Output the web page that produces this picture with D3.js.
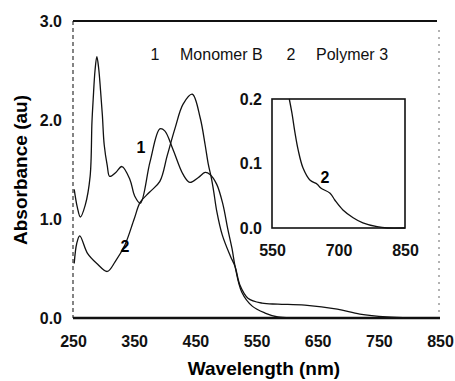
<!DOCTYPE html>
<html>
<head>
<meta charset="utf-8">
<script src="https://cdn.jsdelivr.net/npm/d3@7/dist/d3.min.js"></script>
<style>
  body { margin: 0; background: #fff; }
  svg { display: block; font-family: "Liberation Sans", Arial, sans-serif; }
  .tick text { font-weight: bold; font-size: 16px; fill: #111; }
</style>
</head>
<body>
<div id="chart"></div>
<script>
// curve 1 - Monomer B
var wavelength1 = [252, 257, 262, 270, 278, 281, 283, 286, 289, 292, 295, 298, 301, 306, 310, 320, 330, 343, 351, 360, 376, 392, 400, 413, 430, 441, 455, 466, 474, 485, 495, 503, 510, 515, 526, 543, 564, 585, 610, 640];
var absorb1 = [1.30, 1.12, 1.02, 1.14, 1.43, 1.98, 2.21, 2.50, 2.64, 2.52, 2.30, 2.05, 1.75, 1.54, 1.43, 1.47, 1.53, 1.40, 1.23, 1.16, 1.58, 1.91, 1.89, 1.71, 1.45, 1.37, 1.42, 1.47, 1.45, 1.35, 1.15, 0.90, 0.70, 0.52, 0.26, 0.12, 0.05, 0.01, 0.0, 0.0];

// curve 2 - Polymer 3
var wavelength2 = [252, 256, 261, 274, 289, 306, 319, 335, 350, 360, 375, 392, 404, 417, 430, 445, 458, 466, 471, 476, 480, 485, 494, 507, 515, 523, 536, 559, 585, 629, 682, 719, 763, 800, 850];
var absorb2 = [0.55, 0.75, 0.83, 0.65, 0.55, 0.47, 0.57, 0.74, 1.00, 1.17, 1.27, 1.38, 1.64, 1.92, 2.16, 2.26, 2.02, 1.75, 1.56, 1.42, 1.28, 1.08, 0.84, 0.63, 0.52, 0.33, 0.20, 0.15, 0.14, 0.13, 0.09, 0.04, 0.01, 0.0, 0.0];

// inset, polymer 3 tail
var insetWl = [589, 595, 602, 609, 620, 636, 652, 660, 681, 692, 710, 733, 755, 787, 810, 850];
var insetAbs = [0.200, 0.178, 0.147, 0.121, 0.093, 0.074, 0.068, 0.062, 0.054, 0.043, 0.028, 0.016, 0.008, 0.002, 0.0, 0.0];

var xTicks = [250, 350, 450, 550, 650, 750, 850];
var yTicks = [0, 1, 2, 3];
var insetXTicks = [550, 700, 850];
var insetYTicks = [0, 0.1, 0.2];
var seriesNames = ["Monomer B", "Polymer 3"];

var width = 455, height = 381;

var svg = d3.select("#chart").append("svg")
  .attr("width", width)
  .attr("height", height);

var x = d3.scaleLinear().domain([250, 850]).range([73, 440]);
var y = d3.scaleLinear().domain([0, 3]).range([318, 21]);

var line = d3.line()
  .x(function (d) { return x(d[0]); })
  .y(function (d) { return y(d[1]); })
  .curve(d3.curveCatmullRom.alpha(0.5));

function zipSeries(xs, ys) {
  return xs.map(function (v, i) { return [v, ys[i]]; });
}

// frame
svg.append("line").attr("x1", 73).attr("x2", 73).attr("y1", 21).attr("y2", 318)
  .attr("stroke", "#333").attr("stroke-width", 1.2).attr("stroke-dasharray", "4,3");
svg.append("line").attr("x1", 439).attr("x2", 439).attr("y1", 30).attr("y2", 318)
  .attr("stroke", "#666").attr("stroke-width", 1).attr("stroke-dasharray", "2,5");
svg.append("line").attr("x1", 73).attr("x2", 437).attr("y1", 21).attr("y2", 21)
  .attr("stroke", "#111").attr("stroke-width", 2);

// axes (labels only)
svg.append("g")
  .attr("transform", "translate(0,318)")
  .call(d3.axisBottom(x).tickValues(xTicks).tickSize(0).tickPadding(18).tickFormat(d3.format("d")))
  .call(function (g) { g.select(".domain").remove(); });

svg.append("g")
  .attr("transform", "translate(73,0)")
  .call(d3.axisLeft(y).tickValues(yTicks).tickSize(0).tickPadding(11).tickFormat(d3.format(".1f")))
  .call(function (g) { g.select(".domain").remove(); });

svg.append("line").attr("x1", 73).attr("x2", 440).attr("y1", 318).attr("y2", 318)
  .attr("stroke", "#111").attr("stroke-width", 2.5);

// spectra
svg.append("path")
  .datum(zipSeries(wavelength1, absorb1))
  .attr("d", line)
  .attr("fill", "none").attr("stroke", "#111").attr("stroke-width", 1.3);

svg.append("path")
  .datum(zipSeries(wavelength2, absorb2))
  .attr("d", line)
  .attr("fill", "none").attr("stroke", "#111").attr("stroke-width", 1.3);

// curve labels
svg.append("text").attr("x", 141).attr("y", 153).attr("text-anchor", "middle")
  .attr("font-size", 16).attr("font-weight", "bold").text("1");
svg.append("text").attr("x", 125).attr("y", 252).attr("text-anchor", "middle")
  .attr("font-size", 16).attr("font-weight", "bold").text("2");

// legend
var legend = svg.append("g").attr("font-size", 16).attr("fill", "#111");
var legendX = [155, 291];
seriesNames.forEach(function (name, i) {
  legend.append("text").attr("x", legendX[i]).attr("y", 60)
    .attr("text-anchor", "middle").text(i + 1);
  legend.append("text").attr("x", legendX[i] + 25).attr("y", 60).text(name);
});

// axis titles
svg.append("text")
  .attr("x", 264).attr("y", 375)
  .attr("text-anchor", "middle")
  .attr("font-size", 19).attr("font-weight", "bold")
  .text("Wavelength (nm)");

svg.append("text")
  .attr("transform", "translate(27,170) rotate(-90)")
  .attr("text-anchor", "middle")
  .attr("font-size", 19).attr("font-weight", "bold")
  .text("Absorbance (au)");

// inset
var ix = d3.scaleLinear().domain([550, 850]).range([272, 405]);
var iy = d3.scaleLinear().domain([0, 0.2]).range([228, 99]);

var inset = svg.append("g");

inset.append("g")
  .attr("transform", "translate(0,228)")
  .call(d3.axisBottom(ix).tickValues(insetXTicks).tickSize(0).tickPadding(17).tickFormat(d3.format("d")))
  .call(function (g) { g.select(".domain").remove(); });

inset.append("g")
  .attr("transform", "translate(272,0)")
  .call(d3.axisLeft(iy).tickValues(insetYTicks).tickSize(0).tickPadding(10).tickFormat(d3.format(".1f")))
  .call(function (g) { g.select(".domain").remove(); });

inset.append("rect")
  .attr("x", 272).attr("y", 99)
  .attr("width", 133).attr("height", 129)
  .attr("fill", "none").attr("stroke", "#111").attr("stroke-width", 1.6);

var insetLine = d3.line()
  .x(function (d) { return ix(d[0]); })
  .y(function (d) { return iy(d[1]); })
  .curve(d3.curveCatmullRom.alpha(0.5));

inset.append("path")
  .datum(zipSeries(insetWl, insetAbs))
  .attr("d", insetLine)
  .attr("fill", "none").attr("stroke", "#111").attr("stroke-width", 1.3);

inset.append("text").attr("x", 325).attr("y", 183).attr("text-anchor", "middle")
  .attr("font-size", 16).attr("font-weight", "bold").text("2");
</script>
</body>
</html>
